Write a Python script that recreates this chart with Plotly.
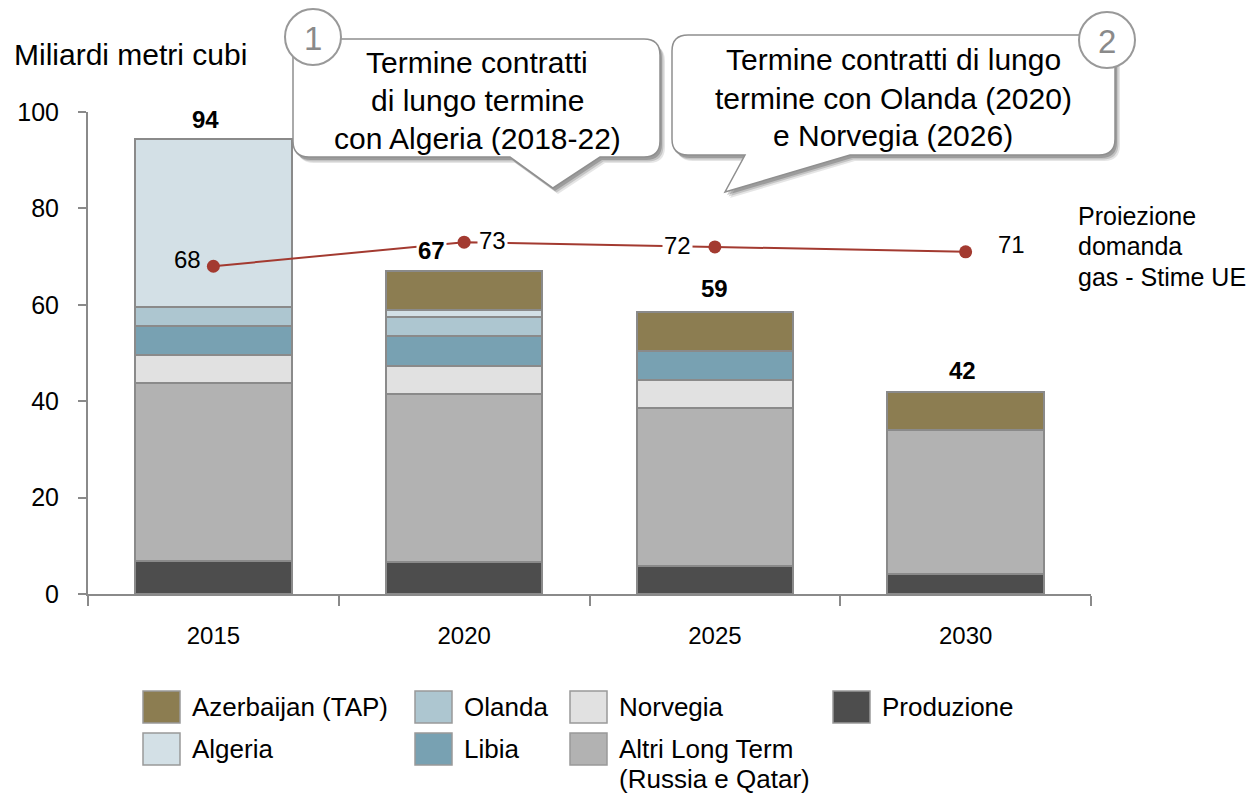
import plotly.graph_objects as go

# ---------------- data ----------------
years = ["2015", "2020", "2025", "2030"]
produzione = [6.8, 6.6, 5.8, 4.2]
altri_long_term = [36.9, 34.9, 32.8, 29.9]
norvegia = [5.9, 5.9, 5.8, None]
libia = [6.0, 6.1, 6.1, None]
olanda = [4.0, 4.0, None, None]
algeria = [34.8, 1.4, None, None]
azerbaijan = [None, 8.1, 8.1, 7.9]
domanda_ue = [68, 73, 72, 71]

series = [
    ("Produzione", produzione, "#4d4d4d"),
    ("Altri Long Term (Russia e Qatar)", altri_long_term, "#b2b2b2"),
    ("Norvegia", norvegia, "#e1e1e1"),
    ("Libia", libia, "#78a1b2"),
    ("Olanda", olanda, "#adc6d0"),
    ("Algeria", algeria, "#d3e0e6"),
    ("Azerbaijan (TAP)", azerbaijan, "#8c7d51"),
]

totals = [round(sum(v[i] or 0 for _, v, _ in series)) for i in range(len(years))]

FONT = "Liberation Sans, Arial, sans-serif"
W, H = 1255, 794
L, R, T, B = 88, 164, 112, 200
PW, PH = W - L - R, H - T - B


def px(x):
    return (x - L) / PW


def py(y):
    return (H - B - y) / PH


fig = go.Figure()
for name, vals, col in series:
    fig.add_trace(go.Bar(
        x=years, y=vals, name=name,
        marker=dict(color=col, line=dict(color="#8a8a8a", width=2)),
        showlegend=False, hoverinfo="x+y+name",
    ))

fig.add_trace(go.Scatter(
    x=years, y=domanda_ue, mode="lines+markers",
    line=dict(color="#a33a30", width=2),
    marker=dict(color="#a33a30", size=13),
    showlegend=False, name="Proiezione domanda gas - Stime UE",
))

annotations = []
# line value labels
lab_dx = [-10, 13, -22, 30]
lab_dy = [7, 2, 1, 7]
lab_anchor = ["right", "left", "right", "left"]
lab_bg = [None, "white", "white", None]
for i, v in enumerate(domanda_ue):
    annotations.append(dict(
        x=i, y=v, text=str(v), showarrow=False,
        xanchor=lab_anchor[i], yanchor="middle", xshift=lab_dx[i], yshift=lab_dy[i],
        font=dict(family=FONT, size=24, color="#000"),
        bgcolor=lab_bg[i], borderpad=1,
    ))

# totals
tot_dx = [-8, -33, 0, -3]
for i, t in enumerate(totals):
    annotations.append(dict(
        x=i, y=t, text="<b>%d</b>" % t, showarrow=False,
        xanchor="center", yanchor="middle", xshift=tot_dx[i], yshift=21,
        font=dict(family=FONT, size=24, color="#000"),
        bgcolor="white" if i == 1 else None, borderpad=1,
    ))


def text_line(x, y, s, size, anchor="left", color="#000"):
    annotations.append(dict(
        xref="paper", yref="paper", x=px(x), y=py(y), text=s,
        showarrow=False, xanchor=anchor, yanchor="middle",
        font=dict(family=FONT, size=size, color=color)))


# free texts
text_line(12, 55, "Miliardi metri cubi", 30)
for s, y in zip(["Proiezione", "domanda", "gas - Stime UE"], [216, 246, 277]):
    text_line(1076, y, s, 25)

shapes = []


def bubble(x0, x1, y0, y1, r, base_a, base_b, tip):
    d = "M %f,%f " % (px(x0 + r), py(y0))
    d += "L %f,%f " % (px(x1 - r), py(y0))
    d += "Q %f,%f %f,%f " % (px(x1), py(y0), px(x1), py(y0 + r))
    d += "L %f,%f " % (px(x1), py(y1 - r))
    d += "Q %f,%f %f,%f " % (px(x1), py(y1), px(x1 - r), py(y1))
    d += "L %f,%f " % (px(base_b), py(y1))
    d += "L %f,%f " % (px(tip[0]), py(tip[1]))
    d += "L %f,%f " % (px(base_a), py(y1))
    d += "L %f,%f " % (px(x0 + r), py(y1))
    d += "Q %f,%f %f,%f " % (px(x0), py(y1), px(x0), py(y1 - r))
    d += "L %f,%f " % (px(x0), py(y0 + r))
    d += "Q %f,%f %f,%f Z" % (px(x0), py(y0), px(x0 + r), py(y0))
    return d


def add_bubble(x0, x1, y0, y1, base_a, base_b, tip, circ, num, lines, tx, tys):
    for k, a in ((5, 0.10), (3.5, 0.15), (2, 0.2)):
        shapes.append(dict(type="path", xref="paper", yref="paper",
                           path=bubble(x0 + k, x1 + k, y0 + k + 1, y1 + k + 1, 16, base_a + k,
                                       base_b + k, (tip[0] + k, tip[1] + k + 1)),
                           fillcolor="rgba(0,0,0,%.2f)" % a, line=dict(width=0), layer="above"))
    shapes.append(dict(type="path", xref="paper", yref="paper",
                       path=bubble(x0, x1, y0, y1, 16, base_a, base_b, tip),
                       fillcolor="white", line=dict(color="#8f8f8f", width=1.5), layer="above"))
    cx, cy, cr = circ
    shapes.append(dict(type="circle", xref="paper", yref="paper",
                       x0=px(cx - cr), x1=px(cx + cr), y0=py(cy - cr), y1=py(cy + cr),
                       fillcolor="white", line=dict(color="#999999", width=2), layer="above"))
    text_line(cx, cy + 1, num, 33, "center", "#8a8a8a")
    for s, ty in zip(lines, tys):
        text_line(tx, ty, s, 30, "center")


add_bubble(293, 660, 39, 157, 510, 600, (553, 188), (313, 37, 28), "1",
           ["Termine contratti", "di lungo termine", "con Algeria (2018-22)"], 477,
           [63, 100, 138])
add_bubble(672, 1115, 35, 155, 745, 850, (725, 192), (1107, 40, 28), "2",
           ["Termine contratti di lungo", "termine con Olanda (2020)", "e Norvegia (2026)"],
           893, [60, 98, 135])

# custom legend
legend_items = [
    ("Azerbaijan (TAP)", ["Azerbaijan (TAP)"], 143, 707),
    ("Algeria", ["Algeria"], 143, 749),
    ("Olanda", ["Olanda"], 415, 707),
    ("Libia", ["Libia"], 415, 749),
    ("Norvegia", ["Norvegia"], 570, 707),
    ("Altri Long Term (Russia e Qatar)", ["Altri Long Term", "(Russia e Qatar)"], 570, 749),
    ("Produzione", ["Produzione"], 833, 707),
]
col_of = {n: c for n, _, c in series}
for name, lbl, x, y in legend_items:
    col = col_of[name]
    shapes.append(dict(type="rect", xref="paper", yref="paper",
                       x0=px(x), x1=px(x + 37), y0=py(y + 16), y1=py(y - 16),
                       fillcolor=col, line=dict(color="#999999", width=1.5)))
    for j, s in enumerate(lbl):
        text_line(x + 47, y + 30 * j, s, 26)

fig.update_layout(
    width=W, height=H,
    margin=dict(l=L, r=R, t=T, b=B, pad=0),
    paper_bgcolor="white", plot_bgcolor="white",
    barmode="stack", bargap=0.376,
    font=dict(family=FONT, size=22, color="#000"),
    xaxis=dict(type="category", range=[-0.5, 3.5], tickson="boundaries",
               ticks="outside", ticklen=10, tickwidth=2, tickcolor="#8a8a8a",
               showline=True, linecolor="#8a8a8a", linewidth=2, showgrid=False,
               tickfont=dict(family=FONT, size=24, color="#000"), ticklabelstandoff=19),
    yaxis=dict(range=[0, 100], tickvals=[0, 20, 40, 60, 80, 100],
               ticks="outside", ticklen=8, tickwidth=2, tickcolor="#8a8a8a",
               showline=True, linecolor="#8a8a8a", linewidth=2, showgrid=False,
               zeroline=False, tickfont=dict(family=FONT, size=25, color="#000"),
               ticklabelstandoff=14),
    annotations=annotations, shapes=shapes,
)

fig.write_html("out.html", config={"displayModeBar": False},
               post_script="document.body.style.margin='0';document.body.style.overflow='hidden';")
